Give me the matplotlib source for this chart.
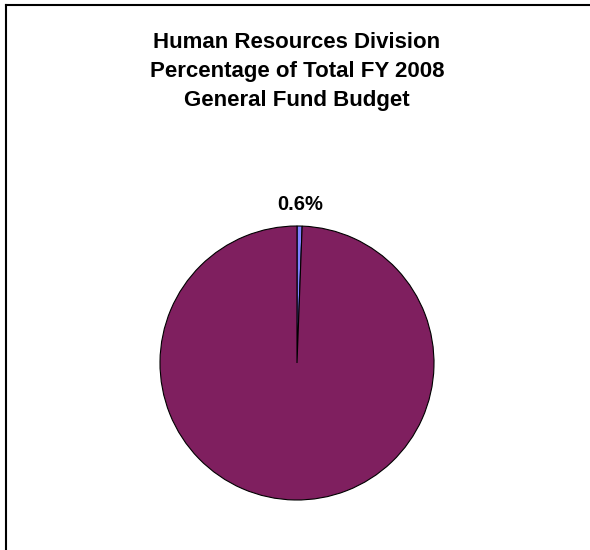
import matplotlib.pyplot as plt
from matplotlib.lines import Line2D

title = 'Human Resources Division\nPercentage of Total FY 2008\nGeneral Fund Budget'
slice_names = ['Human Resources', 'Rest of General Fund']
shares = [0.6, 99.4]
slice_labels = ['0.6%', '']
slice_colors = ['#8080FF', '#7F1F5F']

plt.rcParams['font.family'] = ['Liberation Sans', 'DejaVu Sans']

fig = plt.figure(figsize=(5.9, 5.5), dpi=100)

# chart frame, runs off the right and bottom edges
x0 = 6 / 590
y0 = 1 - 5 / 550
fig.add_artist(Line2D([x0, x0], [0, y0], color='black', lw=1.5))
fig.add_artist(Line2D([x0, 1.0], [y0, y0], color='black', lw=1.5))

fig.text(297 / 590, 1 - 71.5 / 550, title, ha='center', va='center',
         fontsize=16, fontweight='bold', linespacing=1.48)

ax = fig.add_axes([160 / 590, 50 / 550, 274 / 590, 274 / 550])
wedges, texts = ax.pie(shares, labels=slice_labels, colors=slice_colors,
                       startangle=90, counterclock=False, labeldistance=1.16,
                       wedgeprops={'edgecolor': 'black', 'linewidth': 0.8})
for t in texts:
    t.set_ha('center')
    t.set_va('center')
    t.set_fontsize(14.5)
    t.set_fontweight('bold')
ax.set_xlim(-1, 1)
ax.set_ylim(-1, 1)
ax.set_aspect('equal')

fig.savefig('out.png', dpi=100)
